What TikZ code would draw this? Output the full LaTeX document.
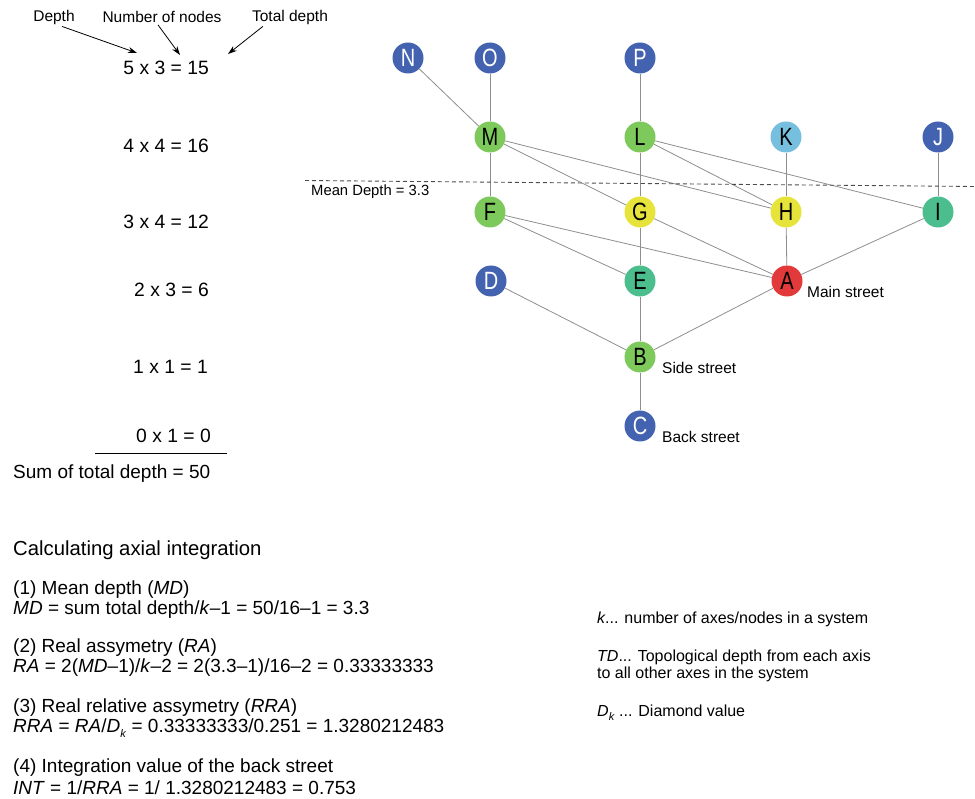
\documentclass[tikz,border=0pt]{standalone}
\usepackage{fontspec}
\setmainfont{Liberation Sans}
\newfontfamily\nodefont[FakeStretch=0.8]{Liberation Sans}
\usetikzlibrary{arrows.meta}
\definecolor{nblue}{HTML}{4363B0}
\definecolor{ngreen}{HTML}{7DC95B}
\definecolor{nteal}{HTML}{4CBE8E}
\definecolor{nyellow}{HTML}{E6E43B}
\definecolor{nred}{HTML}{E23A3A}
\definecolor{nlight}{HTML}{76BFDF}
\definecolor{linkgray}{HTML}{8E8E8E}
\newcommand{\fs}[1]{\fontsize{#1}{#1}\selectfont}
\newcommand{\subk}{\raisebox{-0.45ex}{\fontsize{11}{11}\selectfont\textit{k}}}
\begin{document}
\begin{tikzpicture}[x=1pt,y=-1pt,
  axnode/.style={circle, minimum size=31pt, inner sep=0pt, font=\nodefont\fs{25}},
  bnode/.style={axnode, fill=nblue, text=white},
  gnode/.style={axnode, fill=ngreen, text=black},
  tnode/.style={axnode, fill=nteal, text=black},
  ynode/.style={axnode, fill=nyellow, text=black},
  rnode/.style={axnode, fill=nred, text=black},
  lnode/.style={axnode, fill=nlight, text=black},
  link/.style={draw=linkgray, line width=0.8pt},
  lbl/.style={inner sep=0pt, font=\fs{15.5}},
  eq/.style={inner sep=0pt, anchor=east, font=\fs{19.3}},
  txt/.style={inner sep=0pt, anchor=west, font=\fs{19}},
  note/.style={inner sep=0pt, anchor=west, align=left, font=\fontsize{16}{17.5}\selectfont},
  street/.style={inner sep=0pt, anchor=west, font=\fs{15.5}},
  arr/.style={-{Stealth[length=9pt,width=6pt]}, line width=0.8pt}]
\useasboundingbox (0,0) rectangle (975,799);

% nodes
\node[bnode] (N) at (408,58) {N};
\node[bnode] (O) at (490,58) {O};
\node[bnode] (P) at (640,58) {P};
\node[gnode] (M) at (490,137) {M};
\node[gnode] (L) at (640,137) {L};
\node[lnode] (K) at (786,137) {K};
\node[bnode] (J) at (938,137) {J};
\node[gnode] (F) at (490,212) {F};
\node[ynode] (G) at (640,212) {G};
\node[ynode] (H) at (786,212) {H};
\node[tnode] (I) at (938,212) {I};
\node[bnode] (D) at (491,281) {D};
\node[tnode] (E) at (640,281) {E};
\node[rnode] (A) at (787,281) {A};
\node[gnode] (B) at (640,357) {B};
\node[bnode] (C) at (640,426) {C};

% links
\draw[link] (N) -- (M);
\draw[link] (O) -- (M);
\draw[link] (P) -- (L);
\draw[link] (K) -- (H);
\draw[link] (J) -- (I);
\draw[link] (M) -- (F);
\draw[link] (M) -- (G);
\draw[link] (M) -- (H);
\draw[link] (L) -- (G);
\draw[link] (L) -- (H);
\draw[link] (L) -- (I);
\draw[link] (F) -- (E);
\draw[link] (F) -- (A);
\draw[link] (G) -- (E);
\draw[link] (G) -- (A);
\draw[link] (H) -- (A);
\draw[link] (I) -- (A);
\draw[link] (D) -- (B);
\draw[link] (E) -- (B);
\draw[link] (A) -- (B);
\draw[link] (B) -- (C);

% street labels
\node[street] (ms) at (807,292) {Main street};
\node[street] (ss) at (662,368) {Side street};
\node[street] (bs) at (662,437) {Back street};

% mean depth line
\coordinate (dl1) at (305,180.5);
\coordinate (dl2) at (975,186.5);
\draw[dash pattern=on 4pt off 3pt, draw=black!70, line width=0.9pt] (dl1) -- (dl2);
\node[inner sep=0pt, anchor=west, font=\fs{14.8}] (md) at (311,192) {Mean Depth = 3.3};

% top labels and arrows
\node[lbl] (lDepth) at (54,17) {Depth};
\node[lbl] (lNum) at (162,17) {Number of nodes};
\node[lbl] (lTot) at (290,17) {Total depth};
\coordinate (tDepth) at (137,53);
\coordinate (tNum) at (180,55);
\coordinate (tTot) at (228,54);
\draw[arr] ([xshift=8pt,yshift=-2pt]lDepth.south) -- (tDepth);
\draw[arr] ([xshift=-4pt,yshift=-2pt]lNum.south) -- (tNum);
\draw[arr] ([xshift=11pt,yshift=-2pt]lTot.south west) -- (tTot);

% depth equations
\node[eq] (e5) at (209,68) {5 x 3 = 15};
\node[eq] (e4) at (209,146) {4 x 4 = 16};
\node[eq] (e3) at (209,222) {3 x 4 = 12};
\node[eq] (e2) at (209,290) {2 x 3 = 6};
\node[eq] (e1) at (208,367) {1 x 1 = 1};
\node[eq] (e0) at (211,436) {0 x 1 = 0};
\coordinate (sl1) at (95,453);
\coordinate (sl2) at (227,453);
\draw[line width=0.9pt] (sl1) -- (sl2);
\node[txt] (sum) at (13,474) {Sum of total depth = 50};

% calculation
\node[txt, font=\fs{20.3}] (head) at (13,550) {Calculating axial integration};
\node[txt] (c1a) at (13,590) {(1) Mean depth (\textit{MD})};
\node[txt] (c1b) at (13,610) {\textit{MD} = sum total depth/\textit{k}–1 = 50/16–1 = 3.3};
\node[txt] (c2a) at (13,648) {(2) Real assymetry (\textit{RA})};
\node[txt] (c2b) at (13,668) {\textit{RA} = 2(\textit{MD}–1)/\textit{k}–2 = 2(3.3–1)/16–2 = 0.33333333};
\node[txt] (c3a) at (13,708) {(3) Real relative assymetry (\textit{RRA})};
\node[txt] (c3b) at (13,728) {\textit{RRA} = \textit{RA}/\textit{D}\subk{} = 0.33333333/0.251 = 1.3280212483};
\node[txt] (c4a) at (13,768) {(4) Integration value of the back street};
\node[txt] (c4b) at (13,788) {\textit{INT} = 1/\textit{RRA} = 1/ 1.3280212483 = 0.753};

% notes
\node[note] (n1) at (597,619) {\textit{k}... number of axes/nodes in a system};
\node[note] (n2) at (597,666) {\textit{TD}... Topological depth from each axis\\to all other axes in the system};
\node[note] (n3) at (597,713) {\textit{D}\subk{} ... Diamond value};
\end{tikzpicture}
\end{document}
